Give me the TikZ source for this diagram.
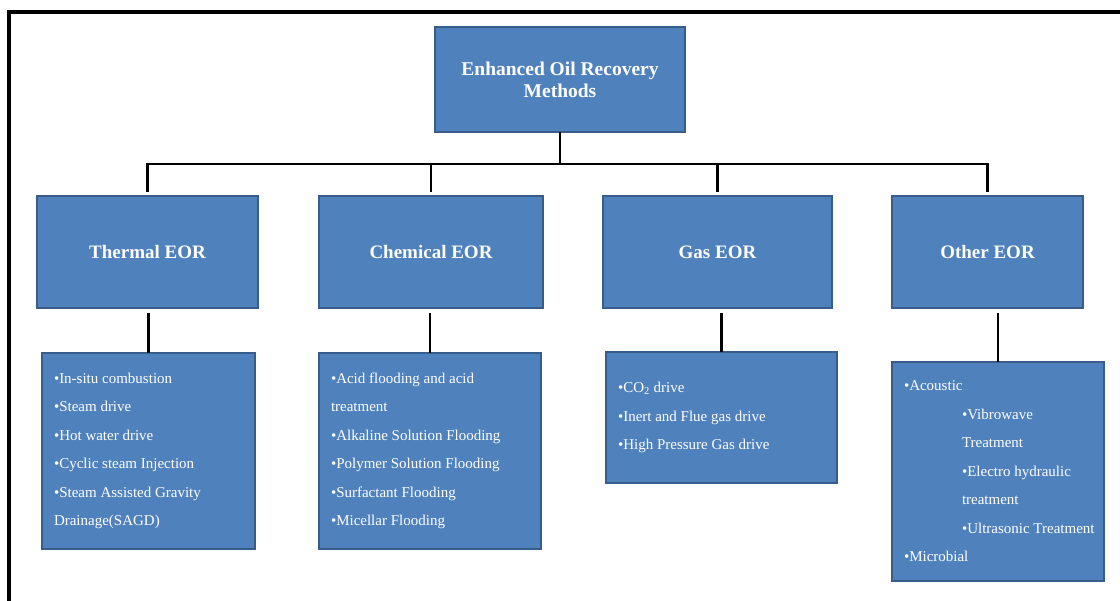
\documentclass[tikz,border=0pt]{standalone}
\usepackage{fontspec}
\setmainfont{Liberation Serif}
\definecolor{boxblue}{RGB}{79,129,189}
\definecolor{edgeblue}{RGB}{56,93,138}
\newcommand{\bul}{\textbullet}

\begin{document}
\begin{tikzpicture}[x=1pt, y=-1pt,
    b/.style={draw=edgeblue, line width=2pt, fill=boxblue, text=white,
              font=\fontsize{19}{22}\selectfont\bfseries, align=center,
              minimum height=112pt},
    db/.style={b, font=\fontsize{15}{28.5}\selectfont, align=flush left,
               inner xsep=12pt},
    a/.style={line width=2.5pt, black, line cap=rect}
  ]
  \useasboundingbox (0,0) rectangle (1120,601);
  \draw[line width=4pt] (9,601) -- (9,12) -- (1120,12);

  % top
  \node[b, minimum width=250pt, minimum height=105pt,
        font=\fontsize{19.5}{22}\selectfont\bfseries] (eor) at (560,80)
        {Enhanced Oil Recovery\\Methods};

  % the four groups
  \foreach \n/\x/\w/\t in {th/147.5/221/Thermal, ch/431/224/Chemical,
                           gs/717.5/229/Gas, ot/987.5/191/Other}
    \node[b, minimum width=\w pt] (\n) at (\x,252) {\t\ EOR};

  % lists
  \node[db, text width=189pt, minimum height=196pt] (thd) at (148.5,451)
    {\bul In-situ combustion\\ \bul Steam drive\\ \bul Hot water drive\\
     \bul Cyclic steam Injection\\ \bul Steam Assisted Gravity\\ Drainage(SAGD)};
  \node[db, text width=198pt, minimum height=196pt] (chd) at (430,451)
    {\bul Acid flooding and acid\\ treatment\\ \bul Alkaline Solution Flooding\\
     \bul Polymer Solution Flooding\\ \bul Surfactant Flooding\\ \bul Micellar Flooding};
  \node[db, text width=207pt, minimum height=131pt] (gsd) at (721.5,417.5)
    {\bul CO\textsubscript{2} drive\\ \bul Inert and Flue gas drive\\
     \bul High Pressure Gas drive};
  \node[db, text width=188pt, minimum height=219pt] (otd) at (998,471.5)
    {\bul Acoustic\\ \hspace*{58pt}\bul Vibrowave\\ \hspace*{58pt}Treatment\\
     \hspace*{58pt}\bul Electro hydraulic\\ \hspace*{58pt}treatment\\
     \hspace*{58pt}\mbox{\bul Ultrasonic Treatment}\\ \bul Microbial};

  % connectors
  \coordinate (bus) at (0,164);
  \draw[a] (eor.south) -- (eor.south |- bus);
  \draw[a] (th.north |- bus) -- (ot.north |- bus);
  \foreach \n in {th,ch,gs,ot}
    \draw[a, shorten >=4pt] (\n.north |- bus) -- (\n.north);
  \foreach \n/\m in {th/thd,ch/chd,gs/gsd,ot/otd}
    \draw[a, shorten >=5pt] (\m.north) -- (\m.north |- \n.south);
\end{tikzpicture}
\end{document}
